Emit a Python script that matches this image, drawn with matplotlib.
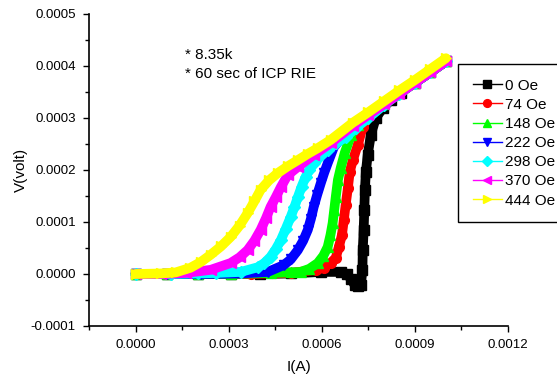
import matplotlib
matplotlib.use('Agg')
import matplotlib.pyplot as plt
from matplotlib.ticker import MultipleLocator, FormatStrFormatter
import numpy as np

plt.rcParams['font.family'] = ['Liberation Sans', 'DejaVu Sans']

## data: current in 1e-4 A, voltage in 1e-4 V

labels = ['0 Oe', '74 Oe', '148 Oe', '222 Oe', '298 Oe', '370 Oe', '444 Oe']

i_0 = [0, 1.0, 2.0, 3.06, 4.0, 5.0, 5.97, 6.61, 6.81, 6.94, 7.06, 7.16, 7.26, 7.31,
       7.32, 7.35, 7.37, 7.39, 7.42, 7.48, 7.58, 7.74, 7.97, 8.23, 8.55, 9.0, 9.5, 10.0]
v_0 = [0, 0, 0, 0, 0, 0.01, 0.04, 0.04, 0.0, -0.10, -0.21, -0.24, -0.21, 0.08,
       0.46, 0.85, 1.23, 1.62, 1.96, 2.29, 2.67, 3.00, 3.19, 3.35, 3.49, 3.68, 3.88, 4.09]

i_74 = [0, 1.0, 2.0, 3.0, 3.71, 4.4, 5.0, 5.81, 6.06, 6.30, 6.45, 6.55, 6.65, 6.71,
        6.77, 6.84, 6.90, 7.0, 7.16, 7.32, 7.52, 7.74, 8.06, 8.5, 9.0, 9.5, 10.0]
v_74 = [0, 0, 0, 0, 0, 0.01, 0.02, 0.08, 0.12, 0.22, 0.31, 0.52, 0.75, 1.04,
        1.33, 1.65, 1.96, 2.19, 2.48, 2.83, 3.04, 3.17, 3.30, 3.48, 3.68, 3.88, 4.09]

i_148 = [0, 1.0, 2.0, 3.06, 4.35, 5.0, 5.32, 5.6, 5.87, 6.05, 6.19, 6.28, 6.35,
         6.40, 6.45, 6.52, 6.61, 6.74, 6.94, 7.16, 7.48, 8.0, 8.5, 9.0, 9.5, 10.0]
v_148 = [0, 0, 0, 0, 0.02, 0.03, 0.04, 0.10, 0.21, 0.35, 0.52, 0.75, 0.98,
         1.23, 1.48, 1.81, 2.04, 2.33, 2.67, 2.87, 3.06, 3.27, 3.48, 3.68, 3.88, 4.09]

i_222 = [0, 1.0, 2.1, 3.39, 4.26, 4.77, 5.0, 5.23, 5.40, 5.55, 5.65, 5.74, 5.85,
         5.97, 6.08, 6.19, 6.39, 6.71, 7.03, 7.42, 8.0, 8.5, 9.0, 9.5, 10.0]
v_222 = [0, 0, 0, 0.01, 0.04, 0.17, 0.28, 0.46, 0.64, 0.85, 1.06, 1.29, 1.52,
         1.75, 1.95, 2.13, 2.44, 2.67, 2.88, 3.02, 3.27, 3.48, 3.68, 3.88, 4.09]

i_298 = [0, 1.13, 2.0, 2.58, 3.39, 3.94, 4.15, 4.35, 4.52, 4.68, 4.84, 5.0, 5.12, 5.23,
         5.35, 5.48, 5.60, 5.74, 5.95, 6.19, 6.47, 6.77, 7.1, 7.5, 8.0, 8.5, 9.0, 9.5, 10.0]
v_298 = [0, 0, 0.01, 0.02, 0.04, 0.13, 0.21, 0.33, 0.48, 0.65, 0.87, 1.10, 1.29, 1.48,
         1.68, 1.87, 2.0, 2.13, 2.27, 2.38, 2.52, 2.63, 2.81, 3.0, 3.25, 3.47, 3.68, 3.88, 4.09]

i_370 = [0, 0.81, 1.61, 2.42, 3.06, 3.35, 3.61, 3.83, 4.03, 4.2, 4.35, 4.52,
         4.68, 4.90, 5.23, 5.74, 6.29, 7.0, 7.5, 8.0, 8.5, 9.0, 9.5, 10.0]
v_370 = [0, 0, 0.02, 0.08, 0.21, 0.32, 0.46, 0.64, 0.85, 1.07, 1.29, 1.48,
         1.67, 1.90, 2.06, 2.29, 2.52, 2.85, 3.06, 3.26, 3.47, 3.68, 3.88, 4.09]

i_444 = [0, 0.81, 1.29, 1.77, 2.1, 2.42, 2.75, 3.06, 3.35, 3.61, 3.83, 4.03, 4.3,
         4.58, 4.9, 5.23, 5.55, 5.87, 6.29, 7.0, 7.5, 8.0, 8.5, 9.0, 9.5, 10.0]
v_444 = [0, 0.01, 0.03, 0.12, 0.23, 0.37, 0.53, 0.71, 0.93, 1.17, 1.40, 1.62, 1.80,
         1.94, 2.07, 2.19, 2.31, 2.42, 2.58, 2.91, 3.11, 3.32, 3.53, 3.73, 3.94, 4.15]

currents = [i_0, i_74, i_148, i_222, i_298, i_370, i_444]
voltages = [v_0, v_74, v_148, v_222, v_298, v_370, v_444]

colors = ['black', '#FF0000', '#00FF00', '#0000FF', '#00FFFF', '#FF00FF', '#FFFF00']
markers = ['s', 'o', '^', 'v', 'D', '<', '>']
msizes = [6.5, 7, 7.5, 7.5, 6, 7.5, 7.5]

## plotting

fig = plt.figure(figsize=(5.57, 3.78), dpi=100)
ax = fig.add_axes([89/557, 1-326/378, (508-89)/557, (326-14)/378])

for k in range(len(labels)):
    I = np.array(currents[k]) * 1e-4
    V = np.array(voltages[k]) * 1e-4
    # dense markers in the original merge into a thick band
    ax.plot(I, V, color=colors[k], lw=7, solid_capstyle='round',
            solid_joinstyle='round', zorder=2 + k)
    ax.plot(I, V, color=colors[k], lw=1, marker=markers[k], ms=msizes[k],
            mec=colors[k], mfc=colors[k], label=labels[k], zorder=2 + k)

ax.set_xlim(-0.00015, 0.0012)
ax.set_ylim(-0.0001, 0.0005)

ax.xaxis.set_major_locator(MultipleLocator(0.0003))
ax.xaxis.set_minor_locator(MultipleLocator(0.00015))
ax.yaxis.set_major_locator(MultipleLocator(0.0001))
ax.yaxis.set_minor_locator(MultipleLocator(0.00005))
ax.xaxis.set_major_formatter(FormatStrFormatter('%.4f'))
ax.yaxis.set_major_formatter(FormatStrFormatter('%.4f'))

ax.spines['top'].set_visible(False)
ax.spines['right'].set_visible(False)
ax.spines['left'].set_linewidth(1.2)
ax.spines['bottom'].set_linewidth(1.2)
ax.tick_params(which='major', direction='out', length=4.5, width=1, labelsize=9.5, pad=5)
ax.tick_params(which='minor', direction='out', length=3, width=1)

ax.set_xlabel('I(A)', fontsize=11, labelpad=6)
ax.set_ylabel('V(volt)', fontsize=11, labelpad=2)

ax.text(0.00016, 0.000422, '* 8.35k', fontsize=11, va='center')
ax.text(0.00016, 0.000385, '* 60 sec of ICP RIE', fontsize=11, va='center')

leg = fig.legend(loc='upper left', bbox_to_anchor=(458/557, 1-64/378), fontsize=11,
                 frameon=True, fancybox=False, edgecolor='black', framealpha=1,
                 handlelength=1.9, handletextpad=0.25, labelspacing=0.34,
                 borderpad=0.95, borderaxespad=0, markerscale=0.8)
leg.get_frame().set_linewidth(1)

fig.savefig('out.png', dpi=100)
